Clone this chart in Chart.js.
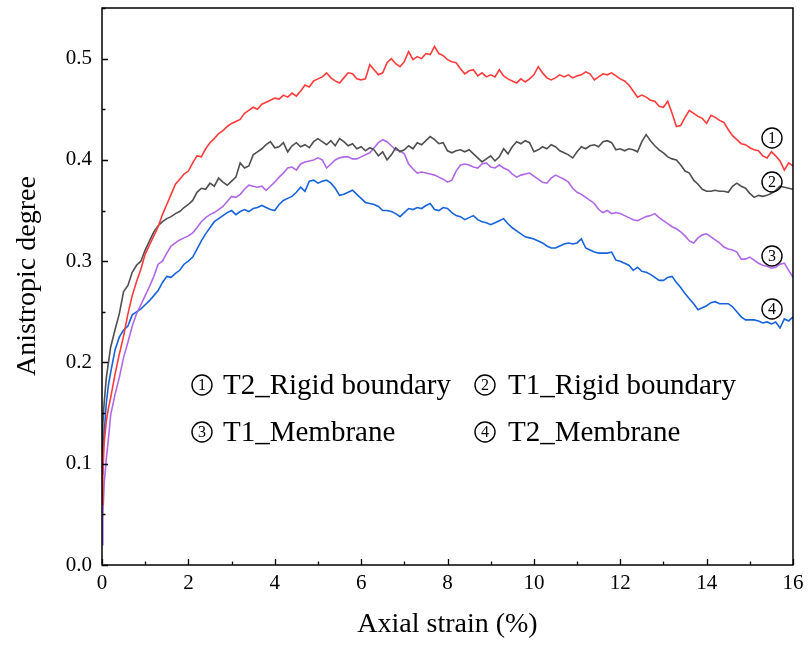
<!DOCTYPE html>
<html>
<head>
<meta charset="utf-8">
<title>Anisotropic degree vs axial strain</title>
<script src="https://cdn.jsdelivr.net/npm/chart.js@4.4.1/dist/chart.umd.min.js"></script>
<style>
  html, body { margin: 0; padding: 0; background: #fff; }
  #wrap { width: 810px; height: 646px; }
</style>
</head>
<body>
<div id="wrap"><canvas id="chart" width="810" height="646"></canvas></div>
<script>
// Axial strain (%) sample points
const strain = [0, 0.02, 0.05, 0.1, 0.15,
  0.2, 0.3, 0.4, 0.5, 0.6, 0.7, 0.8, 0.9,
  1.0, 1.1, 1.2, 1.3, 1.4, 1.5, 1.6, 1.7, 1.8, 1.9,
  2.0, 2.1, 2.2, 2.3, 2.4, 2.5, 2.6, 2.7, 2.8, 2.9,
  3.0, 3.1, 3.2, 3.3, 3.4, 3.5, 3.6, 3.7, 3.8, 3.9,
  4.0, 4.1, 4.2, 4.3, 4.4, 4.5, 4.6, 4.7, 4.8, 4.9,
  5.0, 5.1, 5.2, 5.3, 5.4, 5.5, 5.6, 5.7, 5.8, 5.9,
  6.0, 6.1, 6.2, 6.3, 6.4, 6.5, 6.6, 6.7, 6.8, 6.9,
  7.0, 7.1, 7.2, 7.3, 7.4, 7.5, 7.6, 7.7, 7.8, 7.9,
  8.0, 8.1, 8.2, 8.3, 8.4, 8.5, 8.6, 8.7, 8.8, 8.9,
  9.0, 9.1, 9.2, 9.3, 9.4, 9.5, 9.6, 9.7, 9.8, 9.9,
  10.0, 10.1, 10.2, 10.3, 10.4, 10.5, 10.6, 10.7, 10.8, 10.9,
  11.0, 11.1, 11.2, 11.3, 11.4, 11.5, 11.6, 11.7, 11.8, 11.9,
  12.0, 12.1, 12.2, 12.3, 12.4, 12.5, 12.6, 12.7, 12.8, 12.9,
  13.0, 13.1, 13.2, 13.3, 13.4, 13.5, 13.6, 13.7, 13.8, 13.9,
  14.0, 14.1, 14.2, 14.3, 14.4, 14.5, 14.6, 14.7, 14.8, 14.9,
  15.0, 15.1, 15.2, 15.3, 15.4, 15.5, 15.6, 15.7, 15.8, 15.9,
  16.0];

// ① T2_Rigid boundary
const t2Rigid = [0.060, 0.090, 0.120, 0.142, 0.155,
  0.165, 0.188, 0.208, 0.226, 0.248, 0.266, 0.280, 0.292,
  0.307, 0.316, 0.325, 0.334, 0.346, 0.356, 0.366, 0.376, 0.381, 0.386,
  0.389, 0.397, 0.404, 0.403, 0.411, 0.417, 0.421, 0.426, 0.429, 0.433,
  0.436, 0.438, 0.440, 0.446, 0.449, 0.452, 0.450, 0.455, 0.457, 0.459,
  0.461, 0.460, 0.464, 0.462, 0.466, 0.463, 0.468, 0.474, 0.472, 0.478,
  0.480, 0.482, 0.486, 0.481, 0.478, 0.476, 0.481, 0.486, 0.485, 0.480,
  0.479, 0.480, 0.494, 0.489, 0.484, 0.486, 0.496, 0.500, 0.495, 0.492,
  0.497, 0.507, 0.499, 0.502, 0.500, 0.505, 0.504, 0.512, 0.505, 0.503,
  0.499, 0.497, 0.496, 0.490, 0.485, 0.488, 0.489, 0.483, 0.486, 0.482,
  0.484, 0.482, 0.489, 0.483, 0.480, 0.478, 0.476, 0.480, 0.477, 0.480,
  0.484, 0.492, 0.486, 0.481, 0.479, 0.481, 0.484, 0.482, 0.484, 0.481,
  0.483, 0.484, 0.487, 0.485, 0.479, 0.482, 0.485, 0.484, 0.486, 0.483,
  0.480, 0.478, 0.474, 0.468, 0.462, 0.464, 0.462, 0.459, 0.458, 0.453,
  0.452, 0.458, 0.446, 0.433, 0.434, 0.442, 0.449, 0.446, 0.443, 0.441,
  0.436, 0.444, 0.442, 0.439, 0.437, 0.430, 0.424, 0.420, 0.416, 0.415,
  0.412, 0.410, 0.409, 0.404, 0.402, 0.408, 0.404, 0.399, 0.390, 0.397,
  0.394];

// ② T1_Rigid boundary
const t1Rigid = [0.110, 0.140, 0.160, 0.185, 0.200,
  0.215, 0.232, 0.248, 0.270, 0.276, 0.289, 0.296, 0.300,
  0.311, 0.320, 0.329, 0.335, 0.339, 0.342, 0.344, 0.347, 0.349, 0.353,
  0.356, 0.360, 0.368, 0.372, 0.371, 0.377, 0.374, 0.382, 0.378, 0.375,
  0.379, 0.383, 0.397, 0.392, 0.394, 0.405, 0.408, 0.411, 0.415, 0.418,
  0.412, 0.413, 0.417, 0.408, 0.414, 0.417, 0.413, 0.415, 0.412, 0.418,
  0.421, 0.418, 0.415, 0.419, 0.414, 0.421, 0.418, 0.414, 0.416, 0.411,
  0.413, 0.409, 0.412, 0.410, 0.404, 0.408, 0.400, 0.405, 0.412, 0.408,
  0.410, 0.414, 0.411, 0.417, 0.415, 0.419, 0.423, 0.420, 0.416, 0.417,
  0.409, 0.407, 0.409, 0.410, 0.408, 0.410, 0.406, 0.402, 0.398, 0.401,
  0.404, 0.399, 0.403, 0.411, 0.406, 0.413, 0.418, 0.416, 0.419, 0.417,
  0.408, 0.410, 0.413, 0.411, 0.415, 0.413, 0.409, 0.407, 0.405, 0.402,
  0.408, 0.413, 0.411, 0.414, 0.415, 0.413, 0.418, 0.419, 0.417, 0.410,
  0.411, 0.409, 0.411, 0.410, 0.408, 0.418, 0.425, 0.419, 0.414, 0.410,
  0.407, 0.403, 0.401, 0.400, 0.395, 0.389, 0.387, 0.380, 0.376, 0.371,
  0.369, 0.369, 0.370, 0.369, 0.369, 0.368, 0.374, 0.377, 0.374, 0.372,
  0.367, 0.363, 0.365, 0.364, 0.365, 0.367, 0.370, 0.374, 0.373, 0.372,
  0.371];

// ③ T1_Membrane
const t1Membrane = [0.020, 0.050, 0.080, 0.105, 0.125,
  0.148, 0.168, 0.185, 0.205, 0.220, 0.236, 0.248, 0.257,
  0.266, 0.275, 0.285, 0.297, 0.300, 0.308, 0.315, 0.318, 0.321, 0.323,
  0.325, 0.328, 0.333, 0.339, 0.343, 0.346, 0.348, 0.351, 0.354, 0.359,
  0.364, 0.363, 0.366, 0.371, 0.375, 0.374, 0.373, 0.374, 0.370, 0.374,
  0.378, 0.383, 0.387, 0.392, 0.393, 0.390, 0.396, 0.398, 0.399, 0.400,
  0.402, 0.400, 0.392, 0.396, 0.400, 0.402, 0.403, 0.403, 0.401, 0.401,
  0.403, 0.405, 0.407, 0.412, 0.417, 0.420, 0.418, 0.414, 0.410, 0.409,
  0.406, 0.396, 0.391, 0.387, 0.388, 0.387, 0.386, 0.385, 0.383, 0.381,
  0.378, 0.380, 0.389, 0.395, 0.396, 0.395, 0.393, 0.392, 0.396, 0.397,
  0.393, 0.392, 0.395, 0.392, 0.390, 0.386, 0.383, 0.385, 0.386, 0.387,
  0.384, 0.381, 0.378, 0.377, 0.382, 0.385, 0.383, 0.381, 0.378, 0.372,
  0.368, 0.366, 0.363, 0.360, 0.357, 0.351, 0.348, 0.350, 0.347, 0.348,
  0.347, 0.345, 0.343, 0.341, 0.340, 0.342, 0.344, 0.345, 0.347, 0.343,
  0.340, 0.337, 0.334, 0.332, 0.329, 0.325, 0.320, 0.318, 0.323, 0.326,
  0.327, 0.324, 0.321, 0.318, 0.314, 0.312, 0.311, 0.309, 0.302, 0.302,
  0.304, 0.301, 0.298, 0.296, 0.295, 0.293, 0.294, 0.297, 0.298, 0.291,
  0.284];

// ④ T2_Membrane
const t2Membrane = [0.090, 0.110, 0.130, 0.160, 0.178,
  0.190, 0.212, 0.225, 0.232, 0.236, 0.247, 0.250, 0.253,
  0.257, 0.261, 0.266, 0.271, 0.279, 0.285, 0.284, 0.288, 0.291, 0.297,
  0.300, 0.304, 0.312, 0.320, 0.327, 0.333, 0.339, 0.342, 0.345, 0.348,
  0.350, 0.346, 0.349, 0.351, 0.349, 0.352, 0.353, 0.355, 0.353, 0.351,
  0.350, 0.356, 0.360, 0.362, 0.364, 0.368, 0.373, 0.369, 0.379, 0.380,
  0.377, 0.379, 0.380, 0.377, 0.372, 0.365, 0.366, 0.368, 0.370, 0.366,
  0.362, 0.358, 0.357, 0.356, 0.354, 0.350, 0.350, 0.349, 0.347, 0.344,
  0.348, 0.352, 0.351, 0.353, 0.352, 0.355, 0.357, 0.351, 0.350, 0.353,
  0.352, 0.348, 0.345, 0.344, 0.341, 0.343, 0.345, 0.341, 0.339, 0.338,
  0.336, 0.338, 0.340, 0.342, 0.337, 0.333, 0.330, 0.327, 0.324, 0.323,
  0.322, 0.320, 0.318, 0.315, 0.313, 0.313, 0.315, 0.317, 0.318, 0.317,
  0.318, 0.322, 0.313, 0.311, 0.309, 0.308, 0.308, 0.308, 0.309, 0.301,
  0.300, 0.298, 0.296, 0.291, 0.294, 0.290, 0.289, 0.287, 0.284, 0.281,
  0.281, 0.284, 0.285, 0.279, 0.274, 0.268, 0.263, 0.258, 0.252, 0.254,
  0.256, 0.259, 0.260, 0.258, 0.258, 0.258, 0.255, 0.250, 0.245, 0.242,
  0.242, 0.242, 0.241, 0.239, 0.240, 0.238, 0.240, 0.234, 0.243, 0.241,
  0.245];

const seriesNames = ['T2_Rigid boundary', 'T1_Rigid boundary', 'T1_Membrane', 'T2_Membrane'];
const xTicks = [0, 2, 4, 6, 8, 10, 12, 14, 16];
const yTicks = [0.0, 0.1, 0.2, 0.3, 0.4, 0.5];

const serif = '"Liberation Serif", "Times New Roman", serif';

function toPoints(values) {
  return strain.map((s, i) => ({ x: s, y: values[i] }));
}

function circledNumber(ctx, cx, cy, n) {
  ctx.beginPath();
  ctx.arc(cx, cy, 10, 0, Math.PI * 2);
  ctx.lineWidth = 1.4;
  ctx.strokeStyle = '#000';
  ctx.stroke();
  ctx.font = '16px ' + serif;
  ctx.fillStyle = '#000';
  ctx.textAlign = 'center';
  ctx.textBaseline = 'middle';
  ctx.fillText(String(n), cx, cy + 1);
}

// no extra label padding around the plot area
function noPad(scale) {
  scale.paddingTop = 0;
  scale.paddingBottom = 0;
  scale.paddingLeft = 0;
  scale.paddingRight = 0;
}

// frame, inward ticks, axis titles and the in-plot labels
const decorations = {
  id: 'decorations',
  afterDatasetsDraw(chart) {
    const { ctx, chartArea: a, scales: { x, y } } = chart;
    ctx.save();
    ctx.strokeStyle = '#000';
    ctx.lineWidth = 1.5;
    ctx.strokeRect(a.left, a.top, a.right - a.left, a.bottom - a.top);

    ctx.beginPath();
    ctx.lineWidth = 1.3;
    for (let v = 0; v <= 16; v++) {
      const p = Math.round(x.getPixelForValue(v)) + 0.5;
      const len = v % 2 === 0 ? 6 : 3.5;
      ctx.moveTo(p, a.bottom);
      ctx.lineTo(p, a.bottom - len);
    }
    for (let k = 0; k <= 11; k++) {
      const p = Math.round(y.getPixelForValue(k * 0.05)) + 0.5;
      const len = k % 2 === 0 ? 6 : 3.5;
      ctx.moveTo(a.left, p);
      ctx.lineTo(a.left + len, p);
    }
    ctx.stroke();

    // axis titles
    ctx.fillStyle = '#000';
    ctx.font = '28px ' + serif;
    ctx.textAlign = 'center';
    ctx.textBaseline = 'alphabetic';
    ctx.fillText('Axial strain (%)', (a.left + a.right) / 2, 632);
    ctx.save();
    ctx.translate(35, 276);
    ctx.rotate(-Math.PI / 2);
    ctx.fillText('Anistropic degree', 0, 0);
    ctx.restore();

    // legend inside the plot
    const legendPos = [
      [202, 385, 223, 394],
      [485, 385, 508, 394],
      [202, 432, 223, 441],
      [485, 432, 508, 441]
    ];
    legendPos.forEach(([cx, cy, tx, ty], i) => {
      circledNumber(ctx, cx, cy, i + 1);
      ctx.font = '29px ' + serif;
      ctx.textAlign = 'left';
      ctx.textBaseline = 'alphabetic';
      ctx.fillText(seriesNames[i], tx, ty);
    });

    // curve end labels
    const endLabels = [[772, 138], [772, 182], [772, 256], [772, 309]];
    endLabels.forEach(([cx, cy], i) => circledNumber(ctx, cx, cy, i + 1));
    ctx.restore();
  }
};

const colors = ['#ff3b3b', '#4f4f4f', '#b068e6', '#1763dc'];
const allSeries = [t2Rigid, t1Rigid, t1Membrane, t2Membrane];

new Chart(document.getElementById('chart'), {
  type: 'line',
  data: {
    datasets: allSeries.map((vals, i) => ({
      label: seriesNames[i],
      data: toPoints(vals),
      borderColor: colors[i],
      borderWidth: 1.6,
      pointRadius: 0,
      tension: 0,
      fill: false
    }))
  },
  options: {
    responsive: false,
    animation: false,
    layout: { padding: { left: 0, top: 8, right: 17, bottom: 0 } },
    plugins: {
      legend: { display: false },
      tooltip: { enabled: false }
    },
    scales: {
      x: {
        type: 'linear',
        min: 0,
        max: 16,
        grid: { display: false, drawTicks: false },
        border: { display: false },
        afterBuildTicks: scale => { scale.ticks = xTicks.map(v => ({ value: v })); },
        afterFit: scale => { scale.height = 81; noPad(scale); },
        ticks: {
          color: '#000',
          padding: 6,
          maxRotation: 0,
          font: { family: serif, size: 21 }
        }
      },
      y: {
        type: 'linear',
        min: 0,
        max: 0.55,
        grid: { display: false, drawTicks: false },
        border: { display: false },
        afterBuildTicks: scale => { scale.ticks = yTicks.map(v => ({ value: v })); },
        afterFit: scale => { scale.width = 102; noPad(scale); },
        ticks: {
          color: '#000',
          padding: 10,
          font: { family: serif, size: 21 },
          callback: v => v.toFixed(1)
        }
      }
    }
  },
  plugins: [decorations]
});
</script>
</body>
</html>
